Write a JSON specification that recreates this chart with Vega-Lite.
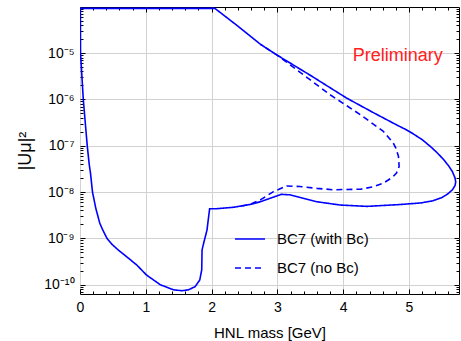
{
  "$schema": "https://vega.github.io/schema/vega-lite/v6.json",
  "autosize": "none",
  "padding": {"left": 80, "top": 7, "right": 2, "bottom": 47},
  "width": 379,
  "height": 287,
  "config": {
    "view": {"stroke": "#000000", "strokeWidth": 1},
    "axis": {"domain": false, "tickColor": "#000000", "tickWidth": 1, "labelColor": "#000000", "titleColor": "#000000", "labelFont": "Liberation Sans", "titleFont": "Liberation Sans", "titleFontWeight": "normal"}
  },
  "data": {
    "values": [
      {"series": "BC7 (with Bc)", "i": 1, "mass": 0.0, "U2": 9.2e-5},
      {"series": "BC7 (with Bc)", "i": 2, "mass": 1.0, "U2": 9.2e-5},
      {"series": "BC7 (with Bc)", "i": 3, "mass": 2.05, "U2": 9.2e-5},
      {"series": "BC7 (with Bc)", "i": 4, "mass": 2.40, "U2": 3.80e-5},
      {"series": "BC7 (with Bc)", "i": 5, "mass": 2.74, "U2": 1.55e-5},
      {"series": "BC7 (with Bc)", "i": 6, "mass": 2.99, "U2": 9.12e-6},
      {"series": "BC7 (with Bc)", "i": 7, "mass": 3.5, "U2": 3.31e-6},
      {"series": "BC7 (with Bc)", "i": 8, "mass": 4.05, "U2": 1.07e-6},
      {"series": "BC7 (with Bc)", "i": 9, "mass": 4.45, "U2": 5.25e-7},
      {"series": "BC7 (with Bc)", "i": 10, "mass": 4.81, "U2": 2.82e-7},
      {"series": "BC7 (with Bc)", "i": 11, "mass": 4.95, "U2": 2.24e-7},
      {"series": "BC7 (with Bc)", "i": 12, "mass": 5.07, "U2": 1.78e-7},
      {"series": "BC7 (with Bc)", "i": 13, "mass": 5.20, "U2": 1.35e-7},
      {"series": "BC7 (with Bc)", "i": 14, "mass": 5.32, "U2": 9.77e-8},
      {"series": "BC7 (with Bc)", "i": 15, "mass": 5.42, "U2": 7.24e-8},
      {"series": "BC7 (with Bc)", "i": 16, "mass": 5.52, "U2": 5.13e-8},
      {"series": "BC7 (with Bc)", "i": 17, "mass": 5.60, "U2": 3.72e-8},
      {"series": "BC7 (with Bc)", "i": 18, "mass": 5.66, "U2": 2.75e-8},
      {"series": "BC7 (with Bc)", "i": 19, "mass": 5.70, "U2": 2.00e-8},
      {"series": "BC7 (with Bc)", "i": 20, "mass": 5.71, "U2": 1.66e-8},
      {"series": "BC7 (with Bc)", "i": 21, "mass": 5.70, "U2": 1.38e-8},
      {"series": "BC7 (with Bc)", "i": 22, "mass": 5.66, "U2": 1.12e-8},
      {"series": "BC7 (with Bc)", "i": 23, "mass": 5.59, "U2": 9.12e-9},
      {"series": "BC7 (with Bc)", "i": 24, "mass": 5.50, "U2": 7.59e-9},
      {"series": "BC7 (with Bc)", "i": 25, "mass": 5.36, "U2": 6.46e-9},
      {"series": "BC7 (with Bc)", "i": 26, "mass": 5.18, "U2": 5.82e-9},
      {"series": "BC7 (with Bc)", "i": 27, "mass": 4.86, "U2": 5.37e-9},
      {"series": "BC7 (with Bc)", "i": 28, "mass": 4.36, "U2": 4.90e-9},
      {"series": "BC7 (with Bc)", "i": 29, "mass": 3.95, "U2": 5.25e-9},
      {"series": "BC7 (with Bc)", "i": 30, "mass": 3.6, "U2": 6.17e-9},
      {"series": "BC7 (with Bc)", "i": 31, "mass": 3.35, "U2": 7.59e-9},
      {"series": "BC7 (with Bc)", "i": 32, "mass": 3.19, "U2": 8.71e-9},
      {"series": "BC7 (with Bc)", "i": 33, "mass": 3.06, "U2": 8.91e-9},
      {"series": "BC7 (with Bc)", "i": 34, "mass": 2.9, "U2": 7.41e-9},
      {"series": "BC7 (with Bc)", "i": 35, "mass": 2.74, "U2": 6.17e-9},
      {"series": "BC7 (with Bc)", "i": 36, "mass": 2.58, "U2": 5.37e-9},
      {"series": "BC7 (with Bc)", "i": 37, "mass": 2.33, "U2": 4.68e-9},
      {"series": "BC7 (with Bc)", "i": 38, "mass": 2.08, "U2": 4.37e-9},
      {"series": "BC7 (with Bc)", "i": 39, "mass": 1.97, "U2": 4.37e-9},
      {"series": "BC7 (with Bc)", "i": 40, "mass": 1.93, "U2": 1.51e-9},
      {"series": "BC7 (with Bc)", "i": 41, "mass": 1.88, "U2": 7.94e-10},
      {"series": "BC7 (with Bc)", "i": 42, "mass": 1.855, "U2": 5.62e-10},
      {"series": "BC7 (with Bc)", "i": 43, "mass": 1.85, "U2": 2.09e-10},
      {"series": "BC7 (with Bc)", "i": 44, "mass": 1.82, "U2": 1.26e-10},
      {"series": "BC7 (with Bc)", "i": 45, "mass": 1.75, "U2": 9.12e-11},
      {"series": "BC7 (with Bc)", "i": 46, "mass": 1.65, "U2": 7.76e-11},
      {"series": "BC7 (with Bc)", "i": 47, "mass": 1.55, "U2": 7.41e-11},
      {"series": "BC7 (with Bc)", "i": 48, "mass": 1.42, "U2": 7.76e-11},
      {"series": "BC7 (with Bc)", "i": 49, "mass": 1.22, "U2": 1e-10},
      {"series": "BC7 (with Bc)", "i": 50, "mass": 1.01, "U2": 1.62e-10},
      {"series": "BC7 (with Bc)", "i": 51, "mass": 0.86, "U2": 2.69e-10},
      {"series": "BC7 (with Bc)", "i": 52, "mass": 0.72, "U2": 3.89e-10},
      {"series": "BC7 (with Bc)", "i": 53, "mass": 0.58, "U2": 5.62e-10},
      {"series": "BC7 (with Bc)", "i": 54, "mass": 0.48, "U2": 7.59e-10},
      {"series": "BC7 (with Bc)", "i": 55, "mass": 0.41, "U2": 1e-9},
      {"series": "BC7 (with Bc)", "i": 56, "mass": 0.34, "U2": 1.58e-9},
      {"series": "BC7 (with Bc)", "i": 57, "mass": 0.30, "U2": 2.14e-9},
      {"series": "BC7 (with Bc)", "i": 58, "mass": 0.24, "U2": 4.47e-9},
      {"series": "BC7 (with Bc)", "i": 59, "mass": 0.19, "U2": 1e-8},
      {"series": "BC7 (with Bc)", "i": 60, "mass": 0.16, "U2": 2.51e-8},
      {"series": "BC7 (with Bc)", "i": 61, "mass": 0.14, "U2": 3.98e-8},
      {"series": "BC7 (with Bc)", "i": 62, "mass": 0.11, "U2": 1e-7},
      {"series": "BC7 (with Bc)", "i": 63, "mass": 0.05, "U2": 1e-6},
      {"series": "BC7 (with Bc)", "i": 64, "mass": 0.008, "U2": 1e-5},
      {"series": "BC7 (with Bc)", "i": 65, "mass": 0.006, "U2": 9.2e-5},
      {"series": "BC7 (no Bc)", "i": 1, "mass": 2.45, "U2": 5.01e-9},
      {"series": "BC7 (no Bc)", "i": 2, "mass": 2.58, "U2": 5.37e-9},
      {"series": "BC7 (no Bc)", "i": 3, "mass": 2.74, "U2": 6.76e-9},
      {"series": "BC7 (no Bc)", "i": 4, "mass": 2.94, "U2": 1.02e-8},
      {"series": "BC7 (no Bc)", "i": 5, "mass": 3.14, "U2": 1.35e-8},
      {"series": "BC7 (no Bc)", "i": 6, "mass": 3.34, "U2": 1.32e-8},
      {"series": "BC7 (no Bc)", "i": 7, "mass": 3.6, "U2": 1.20e-8},
      {"series": "BC7 (no Bc)", "i": 8, "mass": 3.85, "U2": 1.12e-8},
      {"series": "BC7 (no Bc)", "i": 9, "mass": 4.26, "U2": 1.15e-8},
      {"series": "BC7 (no Bc)", "i": 10, "mass": 4.45, "U2": 1.29e-8},
      {"series": "BC7 (no Bc)", "i": 11, "mass": 4.61, "U2": 1.55e-8},
      {"series": "BC7 (no Bc)", "i": 12, "mass": 4.75, "U2": 2.09e-8},
      {"series": "BC7 (no Bc)", "i": 13, "mass": 4.81, "U2": 2.57e-8},
      {"series": "BC7 (no Bc)", "i": 14, "mass": 4.85, "U2": 3.55e-8},
      {"series": "BC7 (no Bc)", "i": 15, "mass": 4.84, "U2": 5.89e-8},
      {"series": "BC7 (no Bc)", "i": 16, "mass": 4.80, "U2": 8.91e-8},
      {"series": "BC7 (no Bc)", "i": 17, "mass": 4.76, "U2": 1.15e-7},
      {"series": "BC7 (no Bc)", "i": 18, "mass": 4.61, "U2": 2.04e-7},
      {"series": "BC7 (no Bc)", "i": 19, "mass": 4.26, "U2": 4.68e-7},
      {"series": "BC7 (no Bc)", "i": 20, "mass": 3.80, "U2": 1.26e-6},
      {"series": "BC7 (no Bc)", "i": 21, "mass": 3.50, "U2": 2.63e-6},
      {"series": "BC7 (no Bc)", "i": 22, "mass": 3.19, "U2": 5.62e-6},
      {"series": "BC7 (no Bc)", "i": 23, "mass": 2.99, "U2": 9.12e-6},
      {"series": "BC7 (no Bc)", "i": 24, "mass": 2.74, "U2": 1.55e-5}
    ]
  },
  "resolve": {
    "scale": {"x": "shared", "y": "shared"},
    "axis": {"x": "independent", "y": "independent"}
  },
  "layer": [
    {
      "mark": {"type": "line", "color": "#0000ff", "strokeWidth": 1.6, "clip": true},
      "encoding": {
        "x": {
          "field": "mass", "type": "quantitative",
          "scale": {"domain": [0, 5.76], "nice": false, "zero": false},
          "axis": {
            "orient": "bottom", "values": [0, 1, 2, 3, 4, 5], "grid": true, "gridColor": "#d2d2d2", "ticks": false,
            "labelPadding": 6, "labelFontSize": 14, "labelFlush": false,
            "title": "HNL mass [GeV]", "titleFontSize": 15, "titlePadding": 11
          }
        },
        "y": {
          "field": "U2", "type": "quantitative",
          "scale": {"type": "log", "domain": [6.3e-11, 9.85e-5], "nice": false},
          "axis": {
            "orient": "left", "values": [1e-10, 1e-9, 1e-8, 1e-7, 1e-6, 1e-5], "grid": true, "gridColor": "#d2d2d2", "ticks": false,
            "labelPadding": 6, "labelFontSize": 14, "labelFlush": false,
            "labelExpr": "datum.value < 3e-10 ? '10⁻¹⁰' : datum.value < 3e-9 ? '10⁻⁹' : datum.value < 3e-8 ? '10⁻⁸' : datum.value < 3e-7 ? '10⁻⁷' : datum.value < 3e-6 ? '10⁻⁶' : '10⁻⁵'",
            "title": "|Uμ|²", "titleFontSize": 18, "titlePadding": 9
          }
        },
        "order": {"field": "i", "type": "quantitative"},
        "strokeDash": {
          "field": "series", "type": "nominal",
          "scale": {"domain": ["BC7 (with Bc)", "BC7 (no Bc)"], "range": [[1, 0], [6, 4]]},
          "legend": {
            "orient": "none", "legendX": 154, "legendY": 216, "title": null,
            "symbolType": "stroke", "symbolSize": 900, "symbolStrokeWidth": 1.6, "symbolStrokeColor": "#0000ff",
            "labelFontSize": 15, "labelFont": "Liberation Sans", "labelColor": "#000000", "labelOffset": 11, "rowPadding": 5
          }
        }
      }
    },
    {
      "data": {"values": [{"label": "Preliminary"}]},
      "mark": {"type": "text", "color": "#ff2020", "font": "Liberation Sans", "fontSize": 18, "align": "center", "baseline": "alphabetic"},
      "encoding": {
        "text": {"field": "label", "type": "nominal"},
        "x": {"datum": 4.83, "type": "quantitative", "axis": {"orient": "top", "values": [0, 1, 2, 3, 4, 5], "labels": false, "grid": false, "tickSize": -5, "title": null}},
        "y": {"datum": 6.6e-6, "type": "quantitative", "axis": {"orient": "right", "values": [1e-10, 1e-9, 1e-8, 1e-7, 1e-6, 1e-5], "labels": false, "grid": false, "tickSize": -5, "title": null}}
      }
    },
    {
      "mark": {"type": "point", "opacity": 0},
      "encoding": {
        "x": {"field": "mass", "type": "quantitative", "axis": {"orient": "bottom", "values": [0, 1, 2, 3, 4, 5], "labels": false, "grid": false, "tickSize": -5, "title": null}},
        "y": {"field": "U2", "type": "quantitative", "axis": {"orient": "left", "values": [1e-10, 1e-9, 1e-8, 1e-7, 1e-6, 1e-5], "labels": false, "grid": false, "tickSize": -5, "title": null}}
      }
    },
    {
      "mark": {"type": "point", "opacity": 0},
      "encoding": {
        "x": {"field": "mass", "type": "quantitative", "axis": {"orient": "bottom", "values": [0.2, 0.4, 0.6, 0.8, 1.2, 1.4, 1.6, 1.8, 2.2, 2.4, 2.6, 2.8, 3.2, 3.4, 3.6, 3.8, 4.2, 4.4, 4.6, 4.8, 5.2, 5.4, 5.6], "labels": false, "grid": false, "tickSize": -3, "title": null}},
        "y": {"field": "U2", "type": "quantitative", "axis": {"orient": "left", "values": [7e-11, 8e-11, 9e-11, 2e-10, 3e-10, 4e-10, 5e-10, 6e-10, 7e-10, 8e-10, 9e-10, 2e-9, 3e-9, 4e-9, 5e-9, 6e-9, 7e-9, 8e-9, 9e-9, 2e-8, 3e-8, 4e-8, 5e-8, 6e-8, 7e-8, 8e-8, 9e-8, 2e-7, 3e-7, 4e-7, 5e-7, 6e-7, 7e-7, 8e-7, 9e-7, 2e-6, 3e-6, 4e-6, 5e-6, 6e-6, 7e-6, 8e-6, 9e-6, 2e-5, 3e-5, 4e-5, 5e-5, 6e-5, 7e-5, 8e-5, 9e-5], "labels": false, "grid": false, "tickSize": -3, "title": null}}
      }
    },
    {
      "mark": {"type": "point", "opacity": 0},
      "encoding": {
        "x": {"field": "mass", "type": "quantitative", "axis": {"orient": "top", "values": [0.2, 0.4, 0.6, 0.8, 1.2, 1.4, 1.6, 1.8, 2.2, 2.4, 2.6, 2.8, 3.2, 3.4, 3.6, 3.8, 4.2, 4.4, 4.6, 4.8, 5.2, 5.4, 5.6], "labels": false, "grid": false, "tickSize": -3, "title": null}},
        "y": {"field": "U2", "type": "quantitative", "axis": {"orient": "right", "values": [7e-11, 8e-11, 9e-11, 2e-10, 3e-10, 4e-10, 5e-10, 6e-10, 7e-10, 8e-10, 9e-10, 2e-9, 3e-9, 4e-9, 5e-9, 6e-9, 7e-9, 8e-9, 9e-9, 2e-8, 3e-8, 4e-8, 5e-8, 6e-8, 7e-8, 8e-8, 9e-8, 2e-7, 3e-7, 4e-7, 5e-7, 6e-7, 7e-7, 8e-7, 9e-7, 2e-6, 3e-6, 4e-6, 5e-6, 6e-6, 7e-6, 8e-6, 9e-6, 2e-5, 3e-5, 4e-5, 5e-5, 6e-5, 7e-5, 8e-5, 9e-5], "labels": false, "grid": false, "tickSize": -3, "title": null}}
      }
    }
  ]
}
